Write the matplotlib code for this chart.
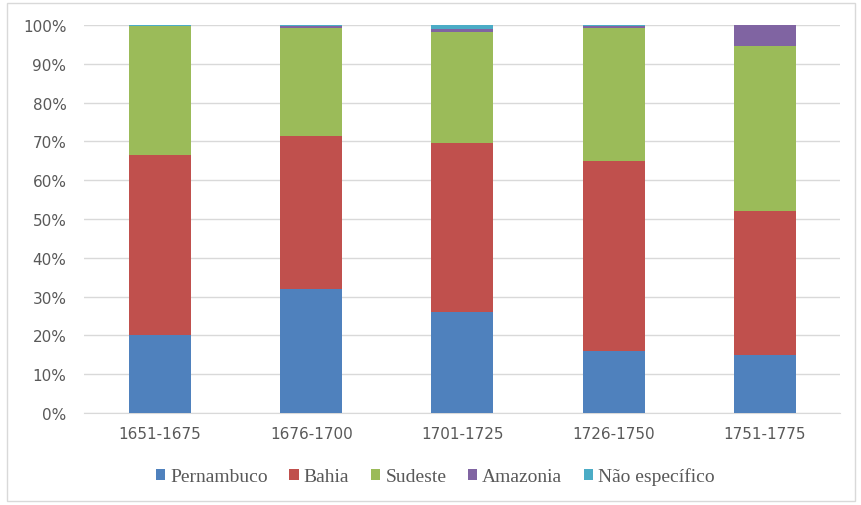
import numpy as np
import matplotlib
matplotlib.use("Agg")
from matplotlib import pyplot as plt
from matplotlib.patches import Rectangle

# periods and shares (%)
periods = ["1651-1675", "1676-1700", "1701-1725", "1726-1750", "1751-1775"]
pernambuco = [20.0, 32.0, 26.0, 16.0, 15.0]
bahia = [46.5, 39.5, 43.5, 49.0, 37.0]
sudeste = [33.2, 27.8, 28.8, 34.2, 42.7]
amazonia = [0.0, 0.5, 0.6, 0.5, 5.3]
nao_especifico = [0.3, 0.2, 1.1, 0.3, 0.0]

series = ["Pernambuco", "Bahia", "Sudeste", "Amazonia", "Não específico"]
colors = ["#4F81BD", "#C0504D", "#9BBB59", "#8064A2", "#4BACC6"]
values = [pernambuco, bahia, sudeste, amazonia, nao_especifico]

fig = plt.figure(figsize=(8.62, 5.06), dpi=100)
ax = fig.add_axes([0.098, 0.1818, 0.877, 0.7668])

x = np.arange(len(periods))
bottom = np.zeros(len(periods))
handles = []
for name, col, vals in zip(series, colors, values):
    h = ax.bar(x, vals, width=0.41, bottom=bottom, color=col, label=name, zorder=3)
    handles.append(h)
    bottom += np.array(vals)

ax.set_xlim(-0.5, len(periods) - 0.5)
ax.set_ylim(0, 100)
ax.set_yticks(np.arange(0, 101, 10))
ax.set_yticklabels([f"{v}%" for v in range(0, 101, 10)])
ax.set_xticks(x)
ax.set_xticklabels(periods)
ax.tick_params(axis="both", length=0, labelsize=11, labelcolor="#595959")
ax.tick_params(axis="y", pad=13)
ax.tick_params(axis="x", pad=9)
ax.grid(axis="y", color="#D9D9D9", linewidth=1, zorder=0)
for s in ["top", "right", "left"]:
    ax.spines[s].set_visible(False)
ax.spines["bottom"].set_color("#D9D9D9")

leg = fig.legend(handles=handles, labels=series, loc="center", bbox_to_anchor=(0.505, 0.057),
                 ncol=5, frameon=False, handlelength=0.5, handleheight=0.5,
                 handletextpad=0.25, columnspacing=1.1,
                 prop={"family": "Liberation Serif", "size": 14})
for t in leg.get_texts():
    t.set_color("#595959")

# light chart border
fig.patches.append(Rectangle((0.008, 0.008), 0.984, 0.984, transform=fig.transFigure,
                             fill=False, edgecolor="#D9D9D9", linewidth=1))

fig.savefig("out.png", dpi=100)
